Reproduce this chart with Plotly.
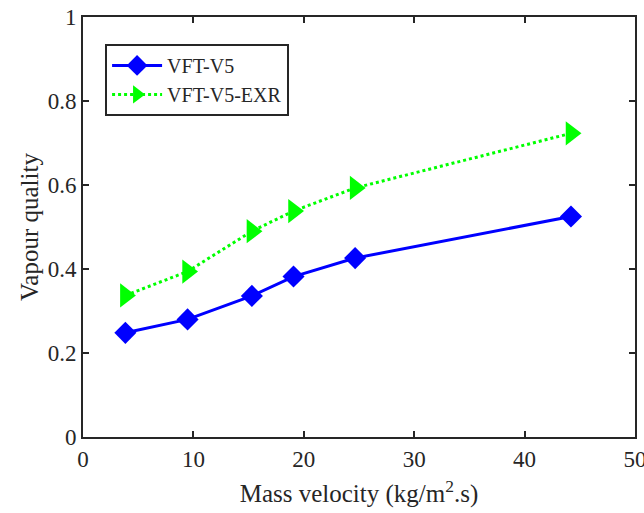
import plotly.graph_objects as go

mass_velocity = [3.84, 9.47, 15.3, 19.07, 24.65, 44.2]
vft_v5 = [0.248, 0.280, 0.336, 0.382, 0.426, 0.525]
vft_v5_exr = [0.337, 0.394, 0.490, 0.538, 0.593, 0.723]

x_ticks = [0, 10, 20, 30, 40, 50]
y_ticks = [0, 0.2, 0.4, 0.6, 0.8, 1]
y_tick_labels = ["0", "0.2", "0.4", "0.6", "0.8", "1"]

FONT = "Liberation Serif"
AX = "#262626"

fig = go.Figure()
fig.add_trace(go.Scatter(
    x=mass_velocity, y=vft_v5, name="VFT-V5", mode="lines+markers",
    line=dict(color="#0000FF", width=3),
    marker=dict(symbol="diamond", size=17, color="#0000FF"),
))
fig.add_trace(go.Scatter(
    x=mass_velocity, y=vft_v5_exr, name="VFT-V5-EXR", mode="lines+markers",
    line=dict(color="#00FF00", width=3, dash="dot"),
    marker=dict(symbol="triangle-right", size=21, color="#00FF00"),
))

axis_common = dict(
    showgrid=False, zeroline=False, showline=True, linecolor=AX, linewidth=2,
    mirror="ticks", ticks="inside", ticklen=6, tickwidth=2, tickcolor=AX,
    tickfont=dict(family=FONT, size=23, color=AX), automargin=False,
    ticklabeloverflow="allow",
)
fig.update_xaxes(range=[0, 50], tickvals=x_ticks,
                 title=dict(text="Mass velocity (kg/m<sup>2</sup>.s)",
                            font=dict(family=FONT, size=25, color=AX), standoff=14),
                 **axis_common)
fig.update_yaxes(range=[0, 1], tickvals=y_ticks, ticktext=y_tick_labels,
                 title=dict(text="Vapour quality",
                            font=dict(family=FONT, size=25, color=AX), standoff=2),
                 **axis_common)

fig.update_layout(
    width=644, height=513,
    margin=dict(l=83, r=9, t=17, b=76),
    plot_bgcolor="white", paper_bgcolor="white",
    font=dict(family=FONT, color=AX),
    legend=dict(x=0.04, y=0.936, xanchor="left", yanchor="top",
                bgcolor="white", bordercolor=AX, borderwidth=2,
                font=dict(family=FONT, size=20, color=AX),
                itemwidth=50, tracegroupgap=0),
    showlegend=True,
)

fig.write_html("out.html")
